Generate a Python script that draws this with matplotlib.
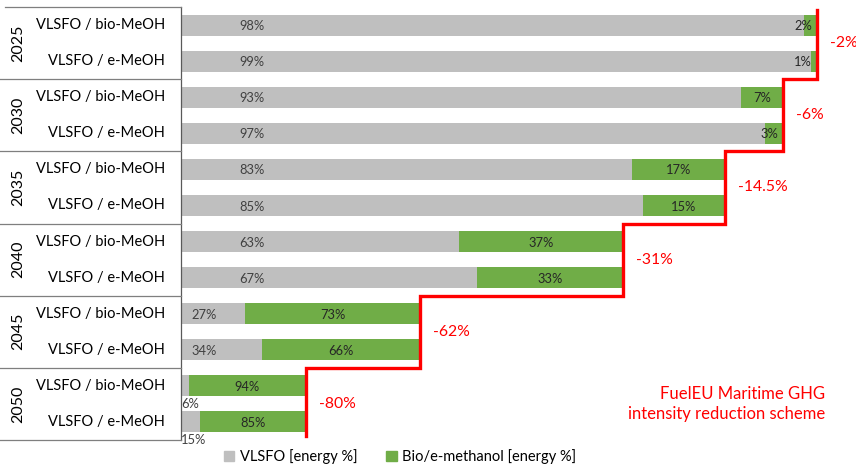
import matplotlib
matplotlib.use("Agg")
import matplotlib.pyplot as plt
import matplotlib.transforms as mtransforms
from matplotlib.patches import Patch

plt.rcParams['font.family'] = ['Lato', 'DejaVu Sans']

years = ["2025", "2030", "2035", "2040", "2045", "2050"]
fuels = ["VLSFO / bio-MeOH", "VLSFO / e-MeOH"]
# energy shares (%) per row, order: year x fuel
vlsfo_share = [98, 99, 93, 97, 83, 85, 63, 67, 27, 34, 6, 15]
meoh_share = [2, 1, 7, 3, 17, 15, 37, 33, 73, 66, 94, 85]
# relative bar length per year
bar_total = [98.0, 92.8, 83.8, 68.1, 36.8, 19.3]
reduction_labels = ["-2%", "-6%", "-14.5%", "-31%", "-62%", "-80%"]

GRAY = "#BFBFBF"
GREEN = "#70AD47"
RED = "#FF0000"

W, H = 856, 467
fig = plt.figure(figsize=(W / 100, H / 100), dpi=100)
ax_left, ax_right, ax_top, ax_bot = 181, 856, 7, 440
ax = fig.add_axes([ax_left / W, 1 - ax_bot / H, (ax_right - ax_left) / W, (ax_bot - ax_top) / H])
px_per_unit = 636 / 98.0
ax.set_xlim(0, (ax_right - ax_left) / px_per_unit)
n = len(vlsfo_share)
ax.set_ylim(n - 0.5, -0.5)
for s in ["top", "right", "bottom"]:
    ax.spines[s].set_visible(False)
ax.spines["left"].set_color("#595959")
ax.spines["left"].set_linewidth(0.9)
ax.set_xticks([])
ax.set_yticks([])

ypos = list(range(n))
totals_rows = [bar_total[i // 2] for i in range(n)]
gray_w = [t * v / 100 for t, v in zip(totals_rows, vlsfo_share)]
green_w = [t * m / 100 for t, m in zip(totals_rows, meoh_share)]
bh = 0.58
ax.barh(ypos, gray_w, height=bh, color=GRAY, label="VLSFO [energy %]")
ax.barh(ypos, green_w, left=gray_w, height=bh, color=GREEN, label="Bio/e-methanol [energy %]")

u = 1 / px_per_unit
lab_fs = 9.3
for i in range(n):
    gw, grw = gray_w[i], green_w[i]
    # gray labels
    if gw * px_per_unit < 50:
        ax.text(0, i + 0.5, f"{vlsfo_share[i]}%", ha="left", va="center", fontsize=lab_fs, color="#404040")
    else:
        off = 58 * u if gw * px_per_unit > 200 else 10 * u
        ax.text(off, i + 0.03, f"{vlsfo_share[i]}%", ha="left", va="center", fontsize=lab_fs, color="#404040")
    # green labels
    end = gw + grw
    if grw * px_per_unit < 30:
        ax.text(end - 5 * u, i + 0.03, f"{meoh_share[i]}%", ha="right", va="center", fontsize=lab_fs, color="#262626")
    else:
        ax.text(gw + grw / 2, i + 0.03, f"{meoh_share[i]}%", ha="center", va="center", fontsize=lab_fs, color="#262626")

# red step line
xs, ys = [], []
for g, t in enumerate(bar_total):
    top = 2 * g - 0.5 if g > 0 else -0.42
    bot = 2 * g + 1.5 if g < len(bar_total) - 1 else 11.4
    xs += [t, t]
    ys += [top, bot]
ax.plot(xs, ys, color=RED, lw=2.4, solid_joinstyle="miter", clip_on=False, zorder=5)

for g, t in enumerate(bar_total):
    ax.text(t + 2.0, 2 * g + 0.5, reduction_labels[g], color=RED, fontsize=11.3, ha="left", va="center", clip_on=False)

ax.text(825 / W, 1 - 404 / H, "FuelEU Maritime GHG\nintensity reduction scheme", transform=fig.transFigure,
        color=RED, fontsize=12, ha="right", va="center", linespacing=1.25)

# category labels
for i in range(n):
    ax.text(-16 * u, i, fuels[i % 2], ha="right", va="center", fontsize=10.5, color="#000000", clip_on=False)
trans = mtransforms.blended_transform_factory(fig.transFigure, ax.transData)
for g, y in enumerate(years):
    fig.text(18 / W, 2 * g + 0.5, y, rotation=90, ha="center", va="center", fontsize=11.5, transform=trans)

for k in range(len(years) + 1):
    yb = 2 * k - 0.5
    x0 = 5 / W if k == 0 else 0
    fig.add_artist(plt.Line2D([x0, ax_left / W], [yb, yb], transform=trans, color="#7F7F7F", lw=0.9))

handles = [Patch(color=GRAY, label="VLSFO [energy %]"), Patch(color=GREEN, label="Bio/e-methanol [energy %]")]
fig.legend(handles=handles, loc="center", bbox_to_anchor=(400 / W, 1 - 457 / H), ncol=2, frameon=False,
           fontsize=10.5, handlelength=0.7, handleheight=0.7, handletextpad=0.4, columnspacing=2.0)

fig.savefig("out.png", dpi=100)
